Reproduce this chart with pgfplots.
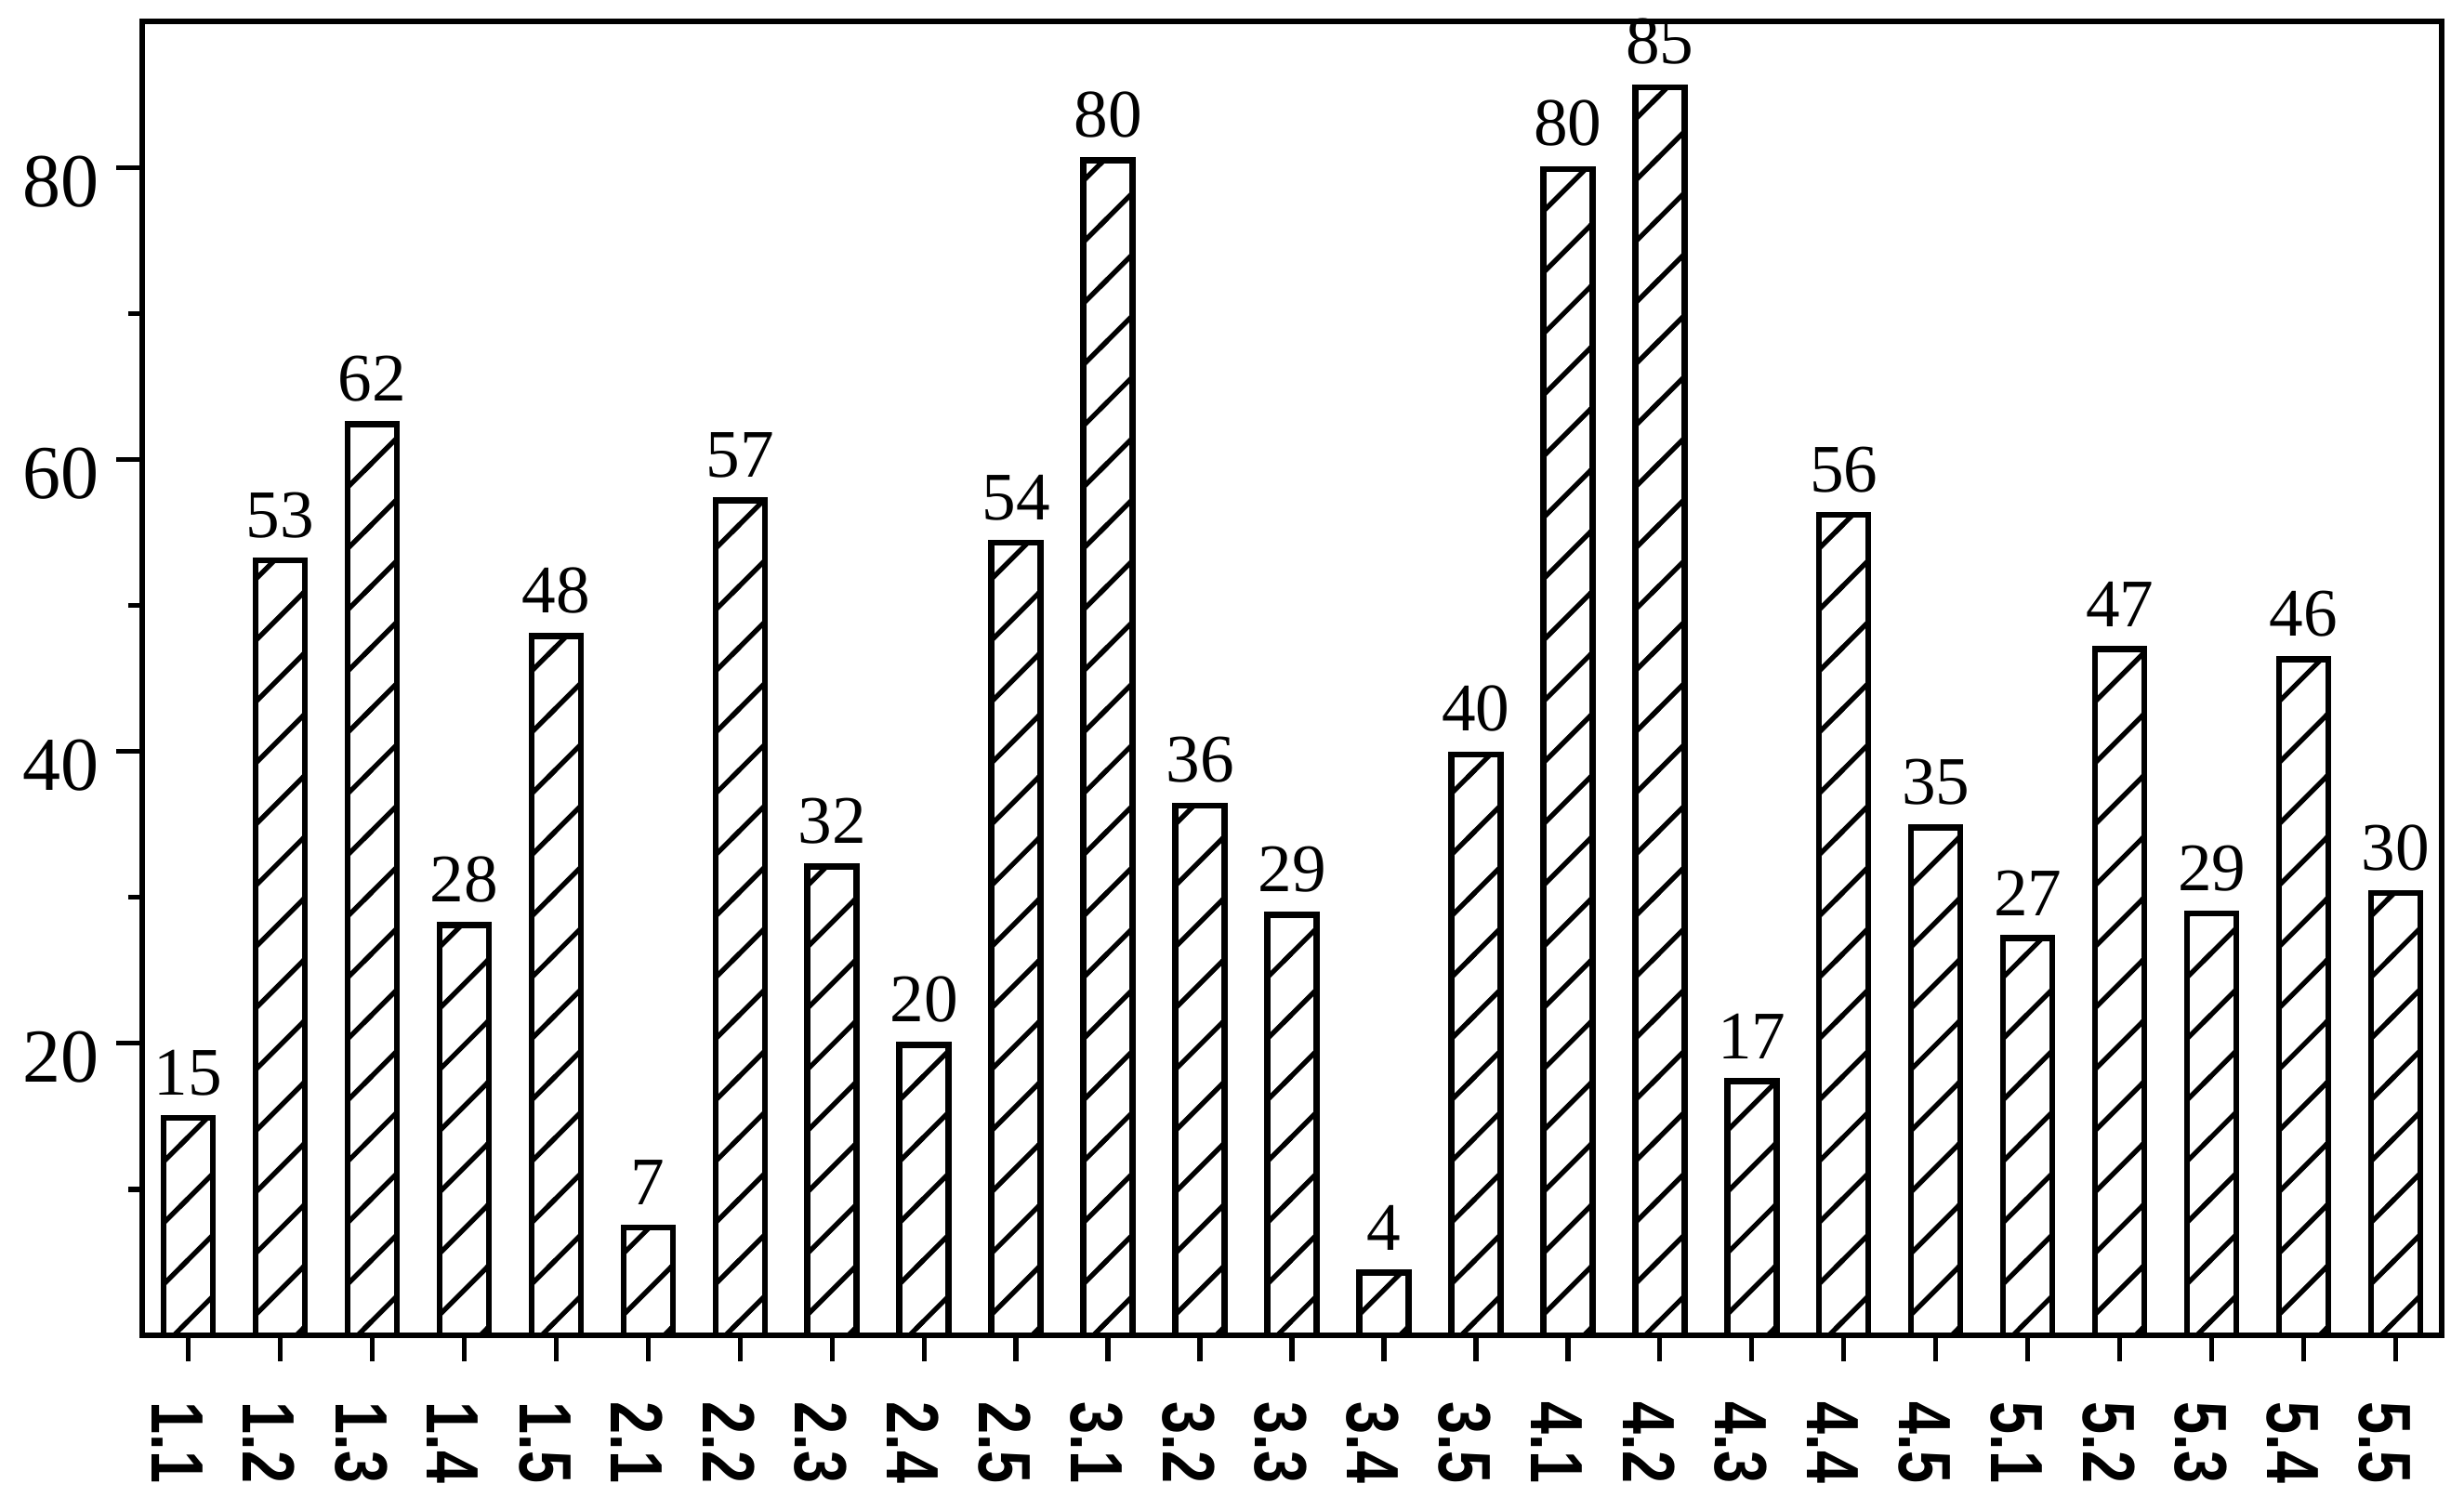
\documentclass[border=0pt]{standalone}
\usepackage{fontspec}
\setmainfont{Liberation Serif}
\newfontfamily\xlabfont{Liberation Sans}
\usepackage{pgfplots}
\pgfplotsset{compat=1.18}
\usepackage{pgfplotstable}
\usetikzlibrary{patterns.meta}

% diagonal hatching, one line per 11.26pt tile
\tikzdeclarepattern{
  name=hatch,
  type=uncolored,
  bounding box={(-1pt,-1pt) and (12.26pt,12.26pt)},
  tile size={(11.26pt,11.26pt)},
  code={\draw[line width=0.9pt] (-1pt,-1pt) -- (12.26pt,12.26pt);}
}

\newcommand\xl[1]{\scalebox{0.79}[1]{#1}}

\pgfplotstableread{
x y lbl
0 14.9 15
1 53.1 53
2 62.4 62
3 28.1 28
4 47.9 48
5 7.4 7
6 57.2 57
7 32.1 32
8 19.9 20
9 54.3 54
10 80.5 80
11 36.3 36
12 28.8 29
13 4.3 4
14 39.8 40
15 79.9 80
16 85.5 85
17 17.4 17
18 56.2 56
19 34.8 35
20 27.2 27
21 47.0 47
22 28.9 29
23 46.3 46
24 30.3 30
}\bardata

\begin{document}
\begin{tikzpicture}
\useasboundingbox (-0.918,-1.122) rectangle (14.988,8.622);
\begin{axis}[
  at={(0,0)}, anchor=south west,
  scale only axis, width=14.844cm, height=8.484cm,
  xmin=-0.5, xmax=24.5, ymin=0, ymax=90,
  clip=false,
  axis line style={line width=1.1pt},
  xtick={0,...,24},
  xticklabels={\xl{1.1},\xl{1.2},\xl{1.3},\xl{1.4},\xl{1.5},
               \xl{2.1},\xl{2.2},\xl{2.3},\xl{2.4},\xl{2.5},
               \xl{3.1},\xl{3.2},\xl{3.3},\xl{3.4},\xl{3.5},
               \xl{4.1},\xl{4.2},\xl{4.3},\xl{4.4},\xl{4.5},
               \xl{5.1},\xl{5.2},\xl{5.3},\xl{5.4},\xl{5.5}},
  ytick={20,40,60,80}, minor ytick={10,30,50,70},
  tick align=outside, tick pos=left,
  major tick length=0.165cm, minor tick length=0.09cm,
  tick style={line width=0.9pt, black},
  /pgf/number format/assume math mode=true,
  yticklabel style={font=\fontsize{14}{14}\selectfont, anchor=east, inner sep=0pt, yshift=-0.09cm},
  yticklabel shift=0.105cm,
  xticklabel style={font=\xlabfont\bfseries\fontsize{13.6}{13.6}\selectfont, xshift=-0.072cm, rotate=-90, anchor=west, inner sep=0pt},
  xticklabel shift=0.258cm,
]
\addplot[ybar, bar width=0.318cm, draw=black, line width=1.1pt,
  pattern=hatch, pattern color=black,
  nodes near coords, point meta=explicit symbolic,
  every node near coord/.append style={font=\fontsize{12.5}{12.5}\selectfont, inner sep=0pt, anchor=south, yshift=0.125cm}]
  table[x=x, y=y, meta=lbl] {\bardata};
\end{axis}
\end{tikzpicture}
\end{document}
